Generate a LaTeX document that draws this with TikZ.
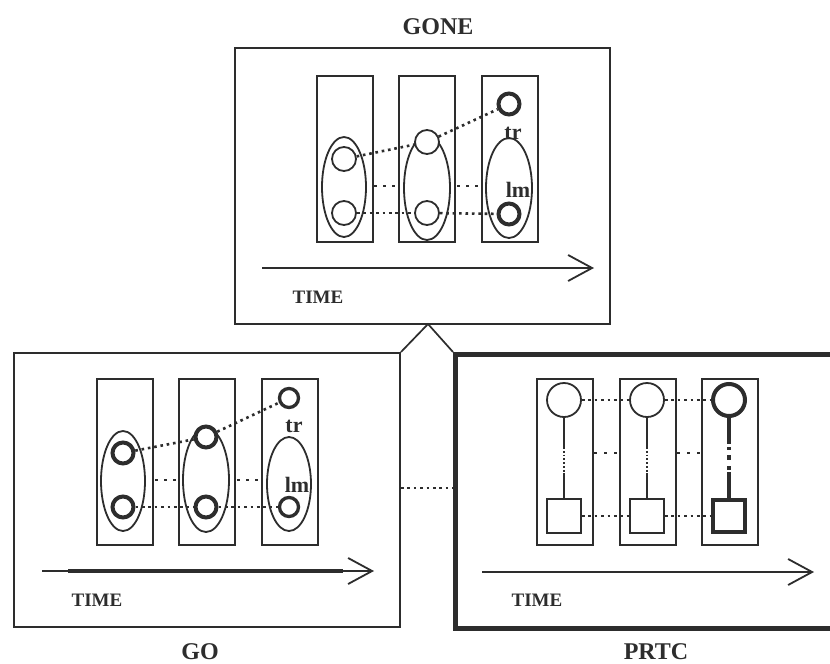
\documentclass[tikz,border=0pt]{standalone}
\usepackage{fontspec}
\setmainfont{Liberation Serif}
\usetikzlibrary{shapes.geometric,arrows.meta}
\definecolor{ink}{RGB}{45,45,45}
\begin{document}
\begin{tikzpicture}[x=1pt,y=-1pt, line width=1.7pt, draw=ink, text=ink,
  frame/.style={draw=ink, line width=2pt, inner sep=0pt, anchor=north west},
  slot/.style={draw=ink, line width=1.8pt, inner sep=0pt, minimum width=56pt, minimum height=166pt, anchor=north west},
  oval/.style={draw=ink, ellipse, line width=1.8pt, inner sep=0pt},
  dot/.style={draw=ink, circle, inner sep=0pt, line width=1.8pt, minimum size=24pt},
  bdot/.style={draw=ink, circle, inner sep=0pt, line width=4pt, minimum size=21pt},
  dotline/.style={draw=ink, line width=2.6pt, dash pattern=on 2.6pt off 3.8pt},
  sdot/.style={draw=ink, line width=2.8pt, dash pattern=on 2.8pt off 6.2pt},
  timearrow/.style={draw=ink, line width=1.8pt, -{Straight Barb[length=24pt,width=26pt,line width=1.8pt]}},
  title/.style={font=\fontsize{24}{26}\selectfont\bfseries, inner sep=0pt},
  timelbl/.style={font=\fontsize{19}{21}\selectfont\bfseries, inner sep=0pt},
  small/.style={font=\fontsize{22}{24}\selectfont\bfseries, inner sep=0pt}]
\clip (0,0) rectangle (830,664);
\fill[white] (0,0) rectangle (830,664);

% ---------------- GONE panel ----------------
\node[frame, minimum width=375pt, minimum height=276pt] (gone) at (234,47) {};
\node[title] (goneT) at (438,27) {GONE};
\node[slot] (g1) at (316,75) {};
\node[slot] (g2) at (398,75) {};
\node[slot] (g3) at (481,75) {};
\node[oval, minimum width=44pt, minimum height=100pt] (ge1) at (344,187) {};
\node[oval, minimum width=46pt, minimum height=104pt] (ge2) at (427,188) {};
\node[oval, minimum width=46pt, minimum height=100pt] (ge3) at (509,188) {};
\node[dot] (ga1) at (344,159) {};
\node[dot] (gb1) at (344,213) {};
\node[dot, fill=white] (ga2) at (427,142) {};
\node[dot] (gb2) at (427,213) {};
\node[bdot] (ga3) at (509,104) {};
\node[bdot] (gb3) at (509,214) {};
\node[small] (gtr) at (513,133) {tr};
\node[small] (glm) at (518,190) {lm};
\draw[dotline] (ga1) -- (ga2);
\draw[dotline] (ga2) -- (ga3);
\draw[dotline] (gb1) -- (gb2);
\draw[dotline] (gb2) -- (gb3);
\coordinate (gm1a) at (374,186); \coordinate (gm1b) at (395,186);
\coordinate (gm2a) at (457,186); \coordinate (gm2b) at (478,186);
\draw[sdot] (gm1a) -- (gm1b);
\draw[sdot] (gm2a) -- (gm2b);
\coordinate (gs) at (262,268);
\coordinate (ge) at (594,268);
\draw[timearrow] (gs) -- (ge);
\node[timelbl] (gtime) at (318,297) {TIME};

% ---------------- GO panel ----------------
\node[frame, minimum width=386pt, minimum height=274pt] (go) at (13,352) {};
\node[title] (goT) at (200,652) {GO};
\node[slot] (o1) at (96,378) {};
\node[slot] (o2) at (178,378) {};
\node[slot] (o3) at (261,378) {};
\node[oval, minimum width=44pt, minimum height=100pt] (oe1) at (123,481) {};
\node[oval, minimum width=46pt, minimum height=104pt] (oe2) at (206,480) {};
\node[oval, minimum width=44pt, minimum height=94pt] (oe3) at (289,484) {};
\node[bdot] (oa1) at (123,453) {};
\node[bdot] (ob1) at (123,507) {};
\node[bdot, fill=white] (oa2) at (206,437) {};
\node[bdot] (ob2) at (206,507) {};
\node[bdot, line width=3.3pt, minimum size=19pt] (oa3) at (289,398) {};
\node[bdot, line width=3.3pt, minimum size=19pt] (ob3) at (289,507) {};
\node[small] (otr) at (294,426) {tr};
\node[small] (olm) at (297,485) {lm};
\draw[dotline] (oa1) -- (oa2);
\draw[dotline] (oa2) -- (oa3);
\draw[dotline] (ob1) -- (ob2);
\draw[dotline] (ob2) -- (ob3);
\coordinate (om1a) at (155,480); \coordinate (om1b) at (176,480);
\coordinate (om2a) at (237,480); \coordinate (om2b) at (258,480);
\draw[sdot] (om1a) -- (om1b);
\draw[sdot] (om2a) -- (om2b);
\coordinate (os) at (42,571);
\coordinate (oe) at (374,571);
\coordinate (ots) at (68,571);
\coordinate (ote) at (343,571);
\draw[timearrow] (os) -- (oe);
\draw[draw=ink, line width=4.5pt] (ots) -- (ote);
\node[timelbl] (otime) at (97,600) {TIME};

% ---------------- PRTC panel ----------------
\node[frame, line width=4.5pt, minimum width=390pt, minimum height=274pt] (prtc) at (453,352) {};
\node[title] (prtcT) at (656,652) {PRTC};
\node[slot] (p1) at (536,378) {};
\node[slot] (p2) at (619,378) {};
\node[slot] (p3) at (701,378) {};
\node[dot, minimum size=34pt] (pc1) at (564,400) {};
\node[dot, minimum size=34pt] (pc2) at (647,400) {};
\node[bdot, minimum size=32pt] (pc3) at (729,400) {};
\node[draw=ink, line width=1.8pt, inner sep=0pt, minimum size=34pt] (ps1) at (564,516) {};
\node[draw=ink, line width=1.8pt, inner sep=0pt, minimum size=34pt] (ps2) at (647,516) {};
\node[draw=ink, line width=4pt, inner sep=0pt, minimum size=32pt] (ps3) at (729,516) {};
% vertical links
\coordinate (pm1a) at (564,447); \coordinate (pm1b) at (564,473);
\coordinate (pm2a) at (647,447); \coordinate (pm2b) at (647,473);
\coordinate (pm3a) at (729,444); \coordinate (pm3b) at (729,472);
\draw[line width=1.8pt] (pc1.south) -- (pm1a);
\draw[line width=1.8pt, dash pattern=on 1.8pt off 2pt] (pm1a) -- (pm1b);
\draw[line width=1.8pt] (pm1b) -- (ps1.north);
\draw[line width=1.8pt] (pc2.south) -- (pm2a);
\draw[line width=1.8pt, dash pattern=on 1.8pt off 2pt] (pm2a) -- (pm2b);
\draw[line width=1.8pt] (pm2b) -- (ps2.north);
\draw[line width=4pt] (pc3.south) -- (pm3a);
\draw[line width=4pt, dash pattern=on 0pt off 3pt on 3pt off 5pt on 5pt off 6pt on 4pt off 10pt] (pm3a) -- (pm3b);
\draw[line width=4pt] (pm3b) -- (ps3.north);
\draw[dotline] (pc1) -- (pc2);
\draw[dotline] (pc2) -- (pc3);
\draw[dotline] (ps1) -- (ps2);
\draw[dotline] (ps2) -- (ps3);
\coordinate (pd1a) at (594,453); \coordinate (pd1b) at (617,453);
\coordinate (pd2a) at (677,453); \coordinate (pd2b) at (700,453);
\draw[sdot, dash pattern=on 2.8pt off 7.2pt] (pd1a) -- (pd1b);
\draw[sdot, dash pattern=on 2.8pt off 7.2pt] (pd2a) -- (pd2b);
\coordinate (ps) at (482,572);
\coordinate (pe) at (814,572);
\draw[timearrow] (ps) -- (pe);
\node[timelbl] (ptime) at (537,600) {TIME};

% ---------------- connectors ----------------
\coordinate (apex) at (428,324);
\draw[line width=1.7pt] (go.north east) -- (apex) -- (prtc.north west);
\draw[dotline] (go.east |- 0,488) -- (prtc.west |- 0,488);
\end{tikzpicture}
\end{document}
